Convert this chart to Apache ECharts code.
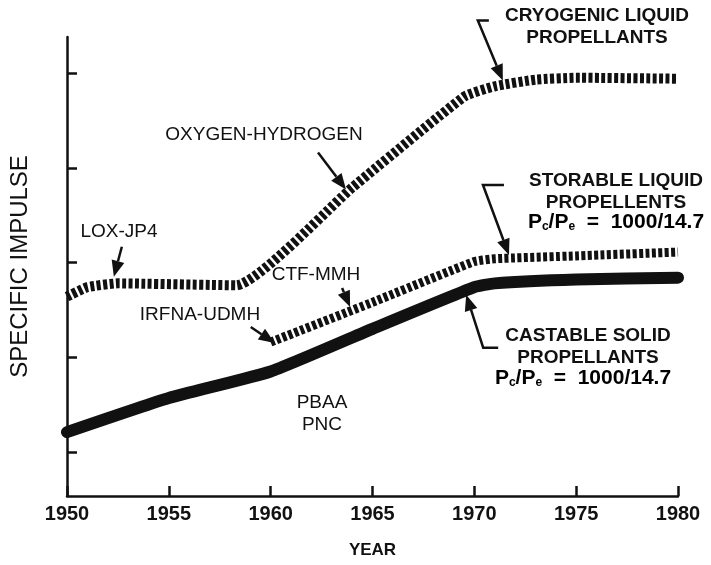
<!DOCTYPE html>
<html>
<head>
<meta charset="utf-8">
<script src="https://cdn.jsdelivr.net/npm/echarts@6/dist/echarts.min.js"></script>
<style>
  html, body { margin: 0; background: #fff; }
  #chart { width: 711px; height: 565px; }
</style>
</head>
<body>
<div id="chart"></div>
<script>
// values (relative specific impulse, y tick = 1 unit)
const cryoYears  = [1950, 1951, 1952.5, 1958.3, 1964, 1969.5, 1971, 1973, 1975, 1980];
const cryoValues = [2.64, 2.74, 2.78, 2.76, 3.79, 4.75, 4.86, 4.93, 4.95, 4.94];

const storYears  = [1960, 1965, 1970, 1971, 1975, 1980];
const storValues = [2.16, 2.58, 3.01, 3.04, 3.07, 3.11];

const solidYears  = [1950, 1955, 1960, 1965, 1970, 1971, 1975, 1980];
const solidValues = [1.21, 1.57, 1.85, 2.30, 2.74, 2.78, 2.82, 2.84];

const yTicks = [1, 2, 3, 4, 5];

const FONT = 'Liberation Sans';
const INK = '#111';

function pairs(xs, ys) {
  return xs.map((x, i) => [x, ys[i]]);
}

let myChart = echarts.init(document.getElementById('chart'));

let option = {
  animation: false,
  grid: { left: 62, right: 33, top: 37, bottom: 69 },
  xAxis: {
    type: 'value',
    min: 1950,
    max: 1980,
    interval: 5,
    name: 'YEAR',
    nameLocation: 'middle',
    nameGap: 46,
    nameTextStyle: { fontFamily: FONT, fontSize: 17, fontWeight: 'bold', color: INK },
    axisLine: { lineStyle: { color: INK, width: 2.5 } },
    axisTick: { inside: true, length: 10, lineStyle: { color: INK, width: 2.5 } },
    axisLabel: {
      fontFamily: FONT, fontSize: 20, fontWeight: 'bold', color: INK, margin: 8,
      formatter: v => String(v)
    },
    splitLine: { show: false }
  },
  yAxis: {
    type: 'value',
    min: 0.536,
    max: 5.38,
    name: 'SPECIFIC IMPULSE',
    nameLocation: 'middle',
    nameGap: 35,
    nameRotate: 90,
    nameTextStyle: { fontFamily: FONT, fontSize: 24, color: INK },
    axisLine: { show: true, lineStyle: { color: INK, width: 2.5 } },
    axisTick: { show: true, inside: true, length: 10, customValues: yTicks, lineStyle: { color: INK, width: 2.5 } },
    axisLabel: { show: false },
    splitLine: { show: false }
  },
  series: [
    {
      name: 'Cryogenic liquid propellants',
      type: 'line',
      data: pairs(cryoYears, cryoValues),
      symbol: 'none',
      smooth: 0.15,
      lineStyle: { color: INK, width: 10, type: [4, 2.4], cap: 'butt' }
    },
    {
      name: 'Storable liquid propellants',
      type: 'line',
      data: pairs(storYears, storValues),
      symbol: 'none',
      smooth: 0.15,
      lineStyle: { color: INK, width: 9, type: [4, 2.4], cap: 'butt' }
    },
    {
      name: 'Castable solid propellants',
      type: 'line',
      data: pairs(solidYears, solidValues),
      symbol: 'none',
      smooth: 0.15,
      lineStyle: { color: INK, width: 12, cap: 'round' }
    }
  ]
};

myChart.setOption(option);

// annotation arrows: tip in data coords, path points as pixel offsets from tip
const arrows = [
  { tip: [1971.4, 4.92], path: [[-14, -60], [-25, -60]] },
  { tip: [1963.7, 3.77], path: [[-28, -37]] },
  { tip: [1952.3, 2.85], path: [[8, -30]] },
  { tip: [1963.9, 2.53], path: [[-8, -19]] },
  { tip: [1960.2, 2.15], path: [[-24, -16]] },
  { tip: [1971.7, 3.08], path: [[-5, -70], [-26, -70]] },
  { tip: [1969.6, 2.66], path: [[32, 53], [17, 53]] }
];

let graphics = [];
arrows.forEach(a => {
  const t = myChart.convertToPixel({ gridIndex: 0 }, a.tip);
  const pts = a.path.map(p => [t[0] + p[0], t[1] + p[1]]);
  const prev = pts[pts.length - 1];
  const dx = t[0] - prev[0], dy = t[1] - prev[1];
  const len = Math.sqrt(dx * dx + dy * dy);
  const ux = dx / len, uy = dy / len;
  const headLen = 16, headW = 6.5;
  const base = [t[0] - ux * headLen, t[1] - uy * headLen];
  graphics.push({
    type: 'polyline',
    shape: { points: pts.concat([base]) },
    style: { stroke: INK, lineWidth: 2.5, fill: null }
  });
  graphics.push({
    type: 'polygon',
    shape: { points: [t, [base[0] - uy * headW, base[1] + ux * headW], [base[0] + uy * headW, base[1] - ux * headW]] },
    style: { fill: INK }
  });
});

const ratioRich = {
  n: { fontFamily: FONT, fontSize: 21, fontWeight: 'bold', color: INK, lineHeight: 22 },
  s: { fontFamily: FONT, fontSize: 12, fontWeight: 'bold', color: INK, lineHeight: 12, padding: [10, 0, 0, 0] }
};
const ratioText = '{n|P}{s|c}{n|/P}{s|e}{n|  =  1000/14.7}';

function label(text, x, y, bold) {
  return {
    type: 'text',
    x: x, y: y,
    style: {
      text: text,
      fontFamily: FONT,
      fontSize: 19,
      fontWeight: bold ? 'bold' : 'normal',
      fill: INK,
      align: 'center',
      verticalAlign: 'middle',
      lineHeight: 22
    }
  };
}

graphics.push(
  label('CRYOGENIC LIQUID\nPROPELLANTS', 597, 27, true),
  label('OXYGEN-HYDROGEN', 264, 135, false),
  label('LOX-JP4', 119, 232, false),
  label('CTF-MMH', 316, 275, false),
  label('IRFNA-UDMH', 200, 315, false),
  label('PBAA\nPNC', 322, 414, false),
  label('STORABLE LIQUID\nPROPELLENTS', 616, 192, true),
  label('CASTABLE SOLID\nPROPELLANTS', 588, 347, true),
  { type: 'text', x: 616, y: 222, style: { text: ratioText, rich: ratioRich, align: 'center', verticalAlign: 'middle' } },
  { type: 'text', x: 583, y: 378, style: { text: ratioText, rich: ratioRich, align: 'center', verticalAlign: 'middle' } }
);

myChart.setOption({ graphic: graphics });
</script>
</body>
</html>
